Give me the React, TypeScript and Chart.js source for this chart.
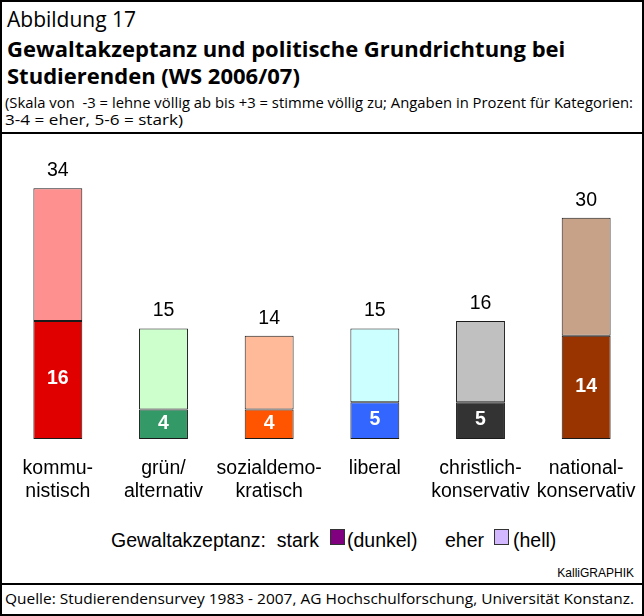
import React, { useEffect, useLayoutEffect, useRef } from "react";
import { Chart, registerables } from "chart.js";

Chart.register(...registerables);

// ---- data ----
const categoryLabels: string[][] = [
  ["kommu-", "nistisch"],
  ["grün/", "alternativ"],
  ["sozialdemo-", "kratisch"],
  ["liberal"],
  ["christlich-", "konservativ"],
  ["national-", "konservativ"],
];
const starkValues = [16, 4, 4, 5, 5, 14];
const eherValues = [18, 11, 10, 10, 11, 16];
const darkColors = ["#E00000", "#339966", "#FF5500", "#3366FF", "#333333", "#993300"];
const lightColors = ["#FF9090", "#CCFFCC", "#FFBB99", "#CCFFFF", "#C0C0C0", "#C8A288"];
const yMax = 40;

const ARIAL = '"Liberation Sans", Arial, sans-serif';
const HEAD = '"Open Sans", "Noto Sans", sans-serif';

const barLabelPlugin = {
  id: "barLabels",
  afterDatasetsDraw(chart: any) {
    const ctx = chart.ctx;
    const darkMeta = chart.getDatasetMeta(0);
    const lightMeta = chart.getDatasetMeta(1);
    ctx.save();
    ctx.textAlign = "center";
    darkMeta.data.forEach((bar: any, i: number) => {
      const p = bar.getProps(["x", "y", "base"], true);
      ctx.font = `bold 19.5px ${ARIAL}`;
      ctx.fillStyle = "#ffffff";
      ctx.textBaseline = "middle";
      ctx.fillText(String(starkValues[i]), p.x, (p.y + p.base) / 2 - 1);
    });
    lightMeta.data.forEach((bar: any, i: number) => {
      const p = bar.getProps(["x", "y"], true);
      ctx.font = `19.5px ${ARIAL}`;
      ctx.fillStyle = "#000000";
      ctx.textBaseline = "alphabetic";
      ctx.fillText(String(starkValues[i] + eherValues[i]), p.x, p.y - 12);
    });
    ctx.restore();
  },
};

function FitText(props: {
  text: string;
  left: number;
  top: number;
  width?: number;
  size: number;
  weight?: number;
  family: string;
}) {
  const ref = useRef<HTMLSpanElement>(null);
  useLayoutEffect(() => {
    const el = ref.current;
    if (!el || !props.width) return;
    el.style.transform = "none";
    const w = el.getBoundingClientRect().width;
    if (w > 0) el.style.transform = `scaleX(${props.width / w})`;
  }, [props.text, props.width]);
  return (
    <span
      ref={ref}
      style={{
        position: "absolute",
        left: props.left,
        top: props.top,
        whiteSpace: "pre",
        fontFamily: props.family,
        fontWeight: props.weight ?? 400,
        fontSize: props.size,
        lineHeight: 1,
        transformOrigin: "0 0",
        display: "inline-block",
        color: "#000",
      }}
    >
      {props.text}
    </span>
  );
}

export default function App() {
  const canvasRef = useRef<HTMLCanvasElement>(null);

  useEffect(() => {
    const canvas = canvasRef.current;
    if (!canvas) return;
    const chart = new Chart(canvas, {
      type: "bar",
      data: {
        labels: categoryLabels as any,
        datasets: [
          {
            label: "stark",
            data: starkValues,
            backgroundColor: darkColors,
            borderColor: "#1a1a1a",
            borderWidth: 1,
            borderSkipped: false,
            barPercentage: 0.463,
            categoryPercentage: 1,
          },
          {
            label: "eher",
            data: eherValues,
            backgroundColor: lightColors,
            borderColor: "#1a1a1a",
            borderWidth: 1,
            borderSkipped: false,
            barPercentage: 0.463,
            categoryPercentage: 1,
          },
        ],
      },
      options: {
        animation: false,
        responsive: false,
        maintainAspectRatio: false,
        layout: { padding: { left: 3, right: 3, top: 10, bottom: 0 } },
        plugins: {
          legend: { display: false },
          tooltip: { enabled: false },
          title: { display: false },
        },
        scales: {
          x: {
            stacked: true,
            grid: { display: false, drawTicks: false },
            border: { display: false },
            ticks: {
              color: "#000",
              font: { family: ARIAL, size: 19.5, lineHeight: 1.17 },
              padding: 18.5,
              maxRotation: 0,
              minRotation: 0,
              autoSkip: false,
            },
            afterFit(scale: any) {
              scale.height = 75;
              scale.paddingLeft = 0;
              scale.paddingRight = 0;
            },
          },
          y: {
            stacked: true,
            display: false,
            min: 0,
            max: yMax,
          },
        },
      },
      plugins: [barLabelPlugin],
    });
    return () => chart.destroy();
  }, []);

  return (
    <div
      style={{
        position: "absolute",
        left: 0,
        top: 0,
        width: 644,
        height: 616,
        background: "#fff",
        overflow: "hidden",
      }}
    >
      <FitText text="Abbildung 17" left={7} top={9} size={21} family={HEAD} />
      <FitText
        text="Gewaltakzeptanz und politische Grundrichtung bei"
        left={7}
        top={37}
        size={22}
        weight={700}
        family={HEAD}
      />
      <FitText
        text="Studierenden (WS 2006/07)"
        left={7}
        top={64}
        size={22}
        weight={700}
        family={HEAD}
      />
      <FitText
        text="(Skala von  -3 = lehne völlig ab bis +3 = stimme völlig zu; Angaben in Prozent für Kategorien:"
        left={5}
        top={96}
        width={628}
        size={14}
        family={HEAD}
      />
      <FitText
        text="3-4 = eher, 5-6 = stark)"
        left={5}
        top={113}
        width={178}
        size={14}
        family={HEAD}
      />
      <div style={{ position: "absolute", left: 0, top: 132, width: 644, height: 2, background: "#000" }} />

      <canvas
        ref={canvasRef}
        width={640}
        height={380}
        style={{ position: "absolute", left: 2, top: 134, width: 640, height: 380 }}
      />

      {/* legend */}
      <FitText text="Gewaltakzeptanz:  stark" left={111} top={530.5} size={19.5} family={ARIAL} />
      <div
        style={{
          position: "absolute",
          left: 330,
          top: 529,
          width: 15,
          height: 16,
          boxSizing: "border-box",
          border: "1px solid #333",
          background: "#800080",
        }}
      />
      <FitText text="(dunkel)" left={347} top={530.5} size={19.5} family={ARIAL} />
      <FitText text="eher" left={445} top={530.5} size={19.5} family={ARIAL} />
      <div
        style={{
          position: "absolute",
          left: 494,
          top: 529,
          width: 15,
          height: 16,
          boxSizing: "border-box",
          border: "1px solid #333",
          background: "#D4B8FF",
        }}
      />
      <FitText text="(hell)" left={513} top={530.5} size={19.5} family={ARIAL} />

      <span
        style={{
          position: "absolute",
          right: 10,
          top: 567,
          fontFamily: ARIAL,
          fontSize: 12,
          lineHeight: 1,
          whiteSpace: "pre",
        }}
      >
        KalliGRAPHIK
      </span>
      <div style={{ position: "absolute", left: 0, top: 583, width: 644, height: 2, background: "#000" }} />
      <FitText
        text="Quelle: Studierendensurvey 1983 - 2007, AG Hochschulforschung, Universität Konstanz."
        left={5}
        top={592}
        width={629}
        size={14.5}
        family={HEAD}
      />

      {/* outer frame */}
      <div
        style={{
          position: "absolute",
          left: 0,
          top: 0,
          width: 644,
          height: 616,
          boxSizing: "border-box",
          border: "2px solid #000",
          pointerEvents: "none",
        }}
      />
    </div>
  );
}
